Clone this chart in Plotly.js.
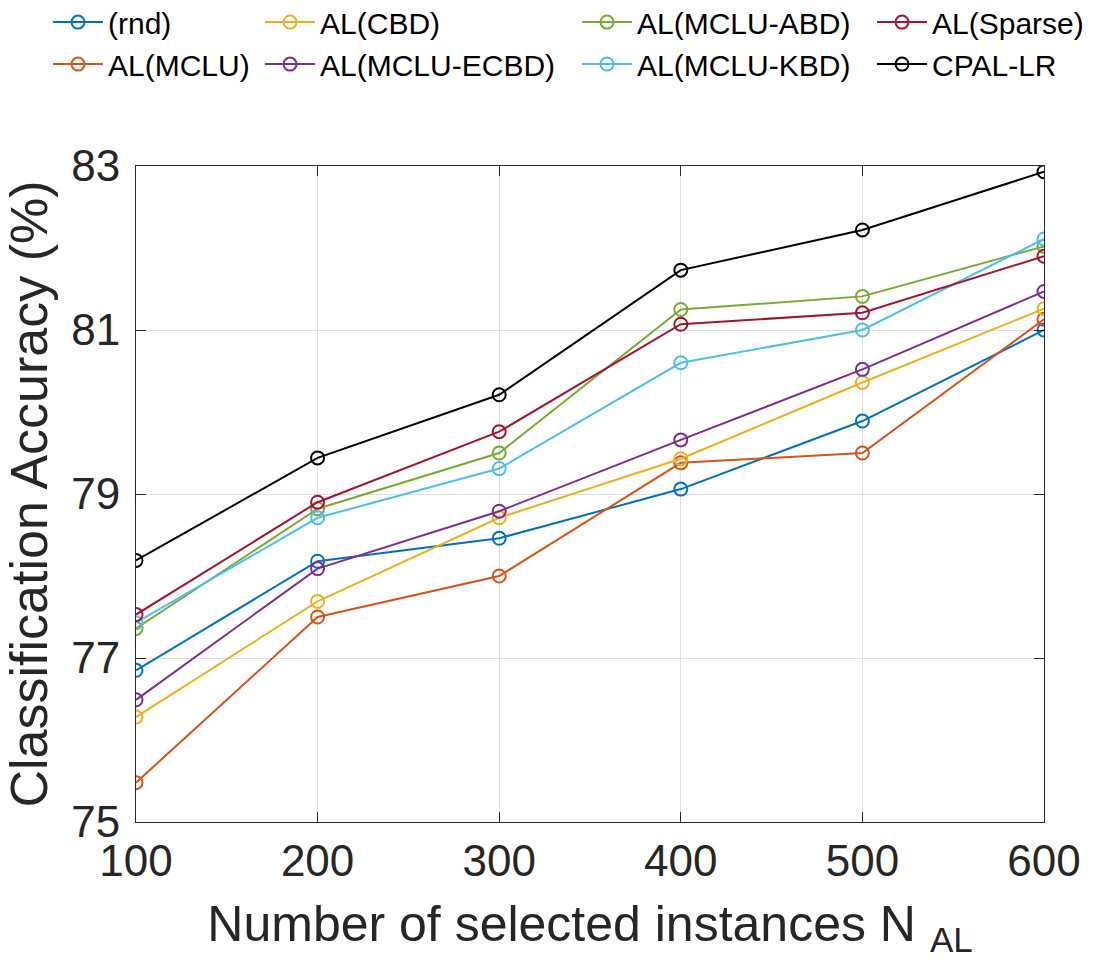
<!DOCTYPE html>
<html>
<head>
<meta charset="utf-8">
<script src="https://cdn.plot.ly/plotly-3.0.1.min.js"></script>
<style>
  html, body { margin: 0; padding: 0; background: #fff; }
  #chart { width: 1097px; height: 976px; }
</style>
</head>
<body>
<div id="chart"></div>
<script>
// Number of selected instances N_AL
const nSelected = [100, 200, 300, 400, 500, 600];

// Classification accuracy (%) per method
const rnd        = [76.85, 78.18, 78.46, 79.06, 79.89, 81.00];
const alMCLU     = [75.48, 77.50, 78.00, 79.38, 79.50, 81.13];
const alCBD      = [76.28, 77.69, 78.71, 79.43, 80.36, 81.26];
const alMCLUECBD = [76.49, 78.09, 78.79, 79.66, 80.52, 81.47];
const alMCLUABD  = [77.36, 78.82, 79.50, 81.25, 81.41, 82.02];
const alMCLUKBD  = [77.43, 78.71, 79.31, 80.60, 81.00, 82.11];
const alSparse   = [77.53, 78.90, 79.76, 81.07, 81.21, 81.90];
const cpalLR     = [78.19, 79.44, 80.21, 81.73, 82.22, 82.93];

const yTicks = [75, 77, 79, 81, 83];
const xTicks = [100, 200, 300, 400, 500, 600];

const FONT = '"Liberation Sans", Arial, Helvetica, sans-serif';
const INK = '#262626';

// name, values, colour, legend column
const series = [
  ['(rnd)',          rnd,        '#0072BD', 'legend'],
  ['AL(MCLU)',       alMCLU,     '#D95319', 'legend'],
  ['AL(CBD)',        alCBD,      '#EDB120', 'legend2'],
  ['AL(MCLU-ECBD)',  alMCLUECBD, '#7E2F8E', 'legend2'],
  ['AL(MCLU-ABD)',   alMCLUABD,  '#77AC30', 'legend3'],
  ['AL(MCLU-KBD)',   alMCLUKBD,  '#4DBEEE', 'legend3'],
  ['AL(Sparse)',     alSparse,   '#A2142F', 'legend4'],
  ['CPAL-LR',        cpalLR,     '#000000', 'legend4']
];

const traces = series.map(([name, vals, color, leg]) => ({
  type: 'scatter',
  mode: 'lines+markers',
  name: name,
  x: nSelected,
  y: vals,
  legend: leg,
  line: { color: color, width: 2 },
  marker: { symbol: 'circle-open', size: 13, color: color, line: { width: 2, color: color } }
}));

function legendAt(x) {
  return {
    x: x, xanchor: 'left', y: 1.259, yanchor: 'top',
    orientation: 'v', bgcolor: 'rgba(0,0,0,0)', borderwidth: 0,
    font: { family: FONT, size: 30, color: '#000' },
    itemwidth: 50, itemsizing: 'trace'
  };
}

const axisCommon = {
  showline: true, linecolor: INK, linewidth: 1, mirror: 'ticks',
  ticks: 'inside', ticklen: 10, tickwidth: 1, tickcolor: INK,
  showgrid: true, gridcolor: '#dfdfdf', gridwidth: 1,
  zeroline: false, automargin: false,
  tickfont: { family: FONT, size: 44, color: INK }
};

const layout = {
  width: 1097, height: 976,
  margin: { l: 136, r: 53, t: 166, b: 154, autoexpand: false },
  paper_bgcolor: '#fff', plot_bgcolor: '#fff',
  showlegend: true,
  xaxis: Object.assign({}, axisCommon, {
    range: [100, 600], tickvals: xTicks, ticktext: xTicks.map(String),
    title: { text: 'Number of selected instances N <sub>AL</sub>', font: { family: FONT, size: 50, color: INK }, standoff: 22 }
  }),
  yaxis: Object.assign({}, axisCommon, {
    range: [75, 83], tickvals: yTicks, ticktext: yTicks.map(String),
    ticklabelstandoff: 6,
    title: { text: 'Classification Accuracy (%)', font: { family: FONT, size: 52, color: INK }, standoff: 14 }
  }),
  legend: legendAt(-0.0969),
  legend2: legendAt(0.1366),
  legend3: legendAt(0.4857),
  legend4: legendAt(0.8106)
};

Plotly.newPlot('chart', traces, layout, { staticPlot: true, displayModeBar: false });
</script>
</body>
</html>
